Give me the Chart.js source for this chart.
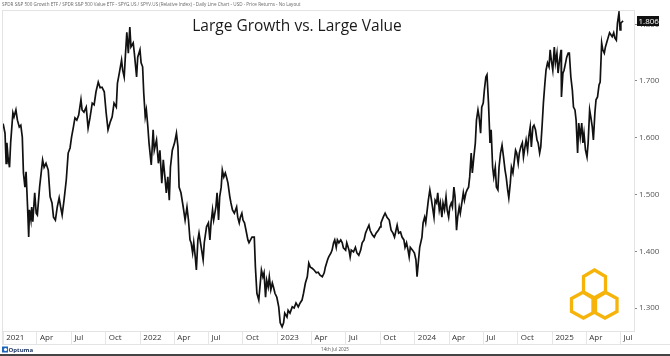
<!DOCTYPE html>
<html><head><meta charset="utf-8">
<script src="https://cdn.jsdelivr.net/npm/chart.js@4/dist/chart.umd.min.js"></script>
<style>html,body{margin:0;padding:0;background:#fff;}canvas{display:block}</style>
</head><body>
<canvas id="c" width="670" height="356"></canvas>
<script>
const headerText = 'SPDR S&P 500 Growth ETF / SPDR S&P 500 Value ETF - SPYG.US / SPYV.US (Relative Index) - Daily Line Chart - USD - Price Returns - No Layout';
const titleText = 'Large Growth vs. Large Value';
const footerDate = '14th Jul 2025';
const brandText = 'Optuma';

// days since 1 Jan 2021
const days = [
0,5,8,10,13,17,20,26,29,34,38,43,47,51,54,58,61,65,68,70,74,76,79,84,88,91,97,102,105,109,114,120,125,130,134,139,144,149,153,157,162,168,173,178,182,187,191,196,201,207,210,215,221,226,231,237,242,247,253,258,263,269,274,279,285,290,295,301,304,309,315,318,322,325,329,333,337,
340,346,349,355,358,364,367,371,374,378,381,385,388,394,399,402,408,413,417,422,426,431,434,438,442,445,450,456,461,465,468,473,479,484,489,493,497,500,504,507,511,514,518,521,525,528,532,535,541,546,550,553,557,560,566,569,573,576,580,583,587,591,594,598,603,606,610,615,621,624,628,631,635,638,642,646,651,654,658,662,668,
671,675,680,684,687,691,694,698,701,705,708,712,716,719,723,728,733,737,742,746,749,755,758,763,769,774,779,785,790,795,799,804,809,813,817,822,827,833,838,843,849,854,857,863,866,872,875,879,882,886,889,893,898,902,905,911,914,920,923,926,932,937,941,946,951,955,960,964,967,973,976,982,987,992,998,1003,
1005,1011,1016,1021,1027,1032,1037,1041,1045,1048,1052,1057,1061,1066,1069,1073,1077,1080,1083,1089,1094,1098,1101,1105,1108,1114,1117,1121,1124,1128,1131,1135,1138,1142,1146,1149,1153,1156,1160,1163,1167,1170,1174,1178,1181,1185,1188,1192,1195,1199,1202,1206,1209,1213,1216,1220,1224,1227,1231,1234,1238,1241,1245,1248,1252,1256,1259,1263,1266,1270,1273,1277,1280,1284,1287,1291,1295,1298,1302,1305,1309,1312,1316,1319,1323,
1327,1331,1335,1338,1342,1345,1349,1352,1356,1359,1363,1366,1370,1373,1377,1381,1384,1388,1391,1395,1398,1402,1405,1409,1412,1416,1420,1423,1427,1430,1434,1437,1441,1444,1448,1452,1455,1458,1462,1466,1469,1473,1476,1480,1484,1485,1489,1492,1496,1499,1503,1506,1510,1514,1517,1521,1524,1528,1531,1535,1539,1542,1545,1549,1553,1556,1560,1563,1567,1570,1574,1577,1581,1585,1588,1592,1595,1599,1602,1606,1609,1613,1617,1620,1624,1627,1631,1634,1638,1641,1643,1646,1649
];
// SPYG / SPYV relative index
const values = [
1.625,1.608,1.555,1.591,1.566,1.548,1.591,1.644,1.637,1.649,1.631,1.619,1.622,1.601,1.538,1.513,1.540,1.478,1.425,1.473,1.455,1.478,1.452,1.503,1.467,1.464,1.513,1.543,1.561,1.548,1.555,1.543,1.496,1.485,1.460,1.455,1.478,1.494,1.478,1.464,1.490,1.526,1.573,1.582,1.601,1.619,1.635,1.631,1.640,1.667,1.649,1.645,1.654,1.617,1.635,1.661,1.658,1.681,1.698,1.688,1.689,1.681,1.644,1.614,1.628,1.637,1.661,1.654,1.696,1.714,1.737,1.719,1.707,1.742,1.786,1.749,1.795,
1.760,1.767,1.749,1.707,1.742,1.755,1.732,1.725,1.679,1.637,1.649,1.619,1.591,1.552,1.614,1.578,1.596,1.555,1.578,1.520,1.561,1.526,1.503,1.531,1.490,1.548,1.578,1.591,1.608,1.584,1.513,1.503,1.478,1.455,1.478,1.455,1.420,1.415,1.397,1.415,1.390,1.367,1.420,1.432,1.415,1.402,1.385,1.415,1.443,1.450,1.420,1.450,1.473,1.455,1.478,1.503,1.455,1.496,1.513,1.543,1.531,1.538,1.531,1.520,1.496,1.485,1.473,1.467,1.478,1.460,1.450,1.460,1.467,1.455,1.450,1.437,1.420,1.415,1.420,1.425,1.425,
1.372,1.326,1.314,1.344,1.367,1.355,1.362,1.319,1.349,1.337,1.355,1.332,1.344,1.337,1.326,1.319,1.302,1.274,1.267,1.274,1.291,1.284,1.296,1.291,1.302,1.300,1.309,1.302,1.309,1.314,1.326,1.344,1.355,1.379,1.372,1.370,1.367,1.362,1.363,1.358,1.355,1.362,1.372,1.385,1.390,1.397,1.402,1.415,1.420,1.407,1.420,1.415,1.420,1.415,1.406,1.402,1.415,1.402,1.390,1.402,1.399,1.407,1.397,1.393,1.402,1.415,1.420,1.432,1.437,1.446,1.437,1.429,1.425,1.432,1.437,1.443,
1.450,1.460,1.467,1.460,1.455,1.437,1.432,1.425,1.437,1.446,1.432,1.434,1.425,1.420,1.407,1.415,1.402,1.390,1.407,1.402,1.397,1.385,1.355,1.385,1.407,1.425,1.450,1.460,1.450,1.473,1.490,1.508,1.496,1.478,1.460,1.490,1.485,1.503,1.473,1.485,1.460,1.485,1.473,1.496,1.473,1.460,1.478,1.485,1.478,1.513,1.496,1.437,1.460,1.478,1.467,1.485,1.503,1.490,1.503,1.508,1.513,1.531,1.573,1.538,1.566,1.591,1.631,1.649,1.637,1.608,1.654,1.661,1.684,1.707,1.711,1.661,1.591,1.614,1.548,1.531,1.548,1.513,1.508,1.548,1.573,
1.587,1.566,1.543,1.531,1.508,1.494,1.520,1.548,1.538,1.555,1.578,1.573,1.555,1.573,1.584,1.591,1.566,1.584,1.596,1.578,1.601,1.619,1.584,1.619,1.622,1.614,1.596,1.591,1.573,1.584,1.626,1.661,1.696,1.719,1.732,1.725,1.755,1.737,1.719,1.760,1.732,1.749,1.714,1.737,1.755,1.672,1.714,1.719,1.732,1.742,1.749,1.749,1.707,1.684,1.654,1.649,1.631,1.573,1.626,1.601,1.626,1.591,1.608,1.578,1.566,1.591,1.649,1.637,1.619,1.596,1.644,1.667,1.672,1.693,1.698,1.767,1.755,1.749,1.760,1.769,1.776,1.785,1.781,1.778,1.785,1.776,1.772,1.802,1.820,1.790,1.802,1.804,1.806
];
const xTickDays = [0,90,181,273,365,455,546,638,730,820,911,1003,1095,1186,1277,1369,1461,1551,1642];
const xTickLabels = ['2021','Apr','Jul','Oct','2022','Apr','Jul','Oct','2023','Apr','Jul','Oct','2024','Apr','Jul','Oct','2025','Apr','Jul'];
const yTickValues = [1.3,1.4,1.5,1.6,1.7,1.8];
const lastValueLabel = '1.806';

const FRAME = '#e3e3e3';
const FONT = '"Open Sans", "Liberation Sans", sans-serif';

function hexPath(c, cx, cy, hw, hv, tip) {
  c.beginPath();
  c.moveTo(cx, cy - hv - tip);
  c.lineTo(cx + hw, cy - hv);
  c.lineTo(cx + hw, cy + hv);
  c.lineTo(cx, cy + hv + tip);
  c.lineTo(cx - hw, cy + hv);
  c.lineTo(cx - hw, cy - hv);
  c.closePath();
}

const deco = {
  id: 'deco',
  beforeDraw(chart) {
    const c = chart.ctx;
    c.save(); c.fillStyle = '#fff'; c.fillRect(0, 0, chart.width, chart.height); c.restore();
  },
  afterDraw(chart) {
    const c = chart.ctx, a = chart.chartArea, W = chart.width;
    const xs = chart.scales.x;
    c.save();
    // frame lines
    c.strokeStyle = FRAME; c.lineWidth = 1;
    c.beginPath();
    c.moveTo(a.left, a.top + 0.5); c.lineTo(a.right, a.top + 0.5);
    c.moveTo(a.left + 0.5, a.top); c.lineTo(a.left + 0.5, xs.bottom);
    c.moveTo(a.left, xs.bottom + 0.5); c.lineTo(W, xs.bottom + 0.5);
    c.stroke();
    // header
    c.fillStyle = '#666'; c.font = '4.6px ' + FONT; c.textBaseline = 'middle'; c.textAlign = 'left';
    c.fillText(headerText, 2, 4.5);
    // title
    c.fillStyle = '#1a1a1a'; c.font = '15.5px ' + FONT; c.textAlign = 'center';
    c.fillText(titleText, 297, 26.5);
    // last value box
    const ys = chart.scales.y;
    const yv = ys.getPixelForValue(values[values.length - 1]);
    c.fillStyle = '#111'; c.fillRect(a.right + 3, Math.round(yv) - 5, 22, 10);
    c.fillStyle = '#fff'; c.font = '8px ' + FONT; c.textAlign = 'left';
    c.fillText(lastValueLabel, a.right + 4.5, Math.round(yv) + 0.5);
    // logo
    c.strokeStyle = '#F6B40B'; c.lineWidth = 3.3; c.lineJoin = 'miter';
    hexPath(c, 583.5, 305, 12, 6.5, 6.5); c.stroke();
    hexPath(c, 605, 305, 12, 6.5, 6.5); c.stroke();
    hexPath(c, 594.5, 284.5, 11, 8, 6.5); c.stroke();
    // footer
    c.fillStyle = '#444'; c.fillRect(0, 354, W, 2);
    c.fillStyle = '#555'; c.font = '4.6px ' + FONT; c.textAlign = 'center';
    c.fillText(footerDate, 335, 350);
    c.fillStyle = '#1d63b8'; c.fillRect(2, 346.5, 6, 6);
    c.fillStyle = '#fff'; c.beginPath(); c.arc(5.5, 349.5, 1.6, 0, Math.PI * 2); c.fill();
    c.fillStyle = '#1e3563'; c.font = 'bold 6px ' + FONT; c.textAlign = 'left';
    c.fillText(brandText, 8.5, 349.8);
    c.restore();
  }
};

new Chart(document.getElementById('c'), {
  type: 'line',
  data: {
    datasets: [{
      data: days.map((d, i) => ({ x: d, y: values[i] })),
      borderColor: '#111', borderWidth: 1.7, pointRadius: 0, tension: 0, fill: false
    }]
  },
  options: {
    responsive: false, animation: false, devicePixelRatio: 1,
    layout: { padding: { left: 2, top: 10, right: 0, bottom: 12 } },
    plugins: { legend: { display: false }, tooltip: { enabled: false }, title: { display: false } },
    scales: {
      x: {
        type: 'linear', min: -3, max: 1678,
        afterBuildTicks: s => { s.ticks = xTickDays.map(v => ({ value: v })); },
        afterFit: s => { s.height = 13; },
        grid: { drawOnChartArea: false, drawTicks: true, tickLength: 13, color: '#e6e6e6' },
        border: { display: true, color: FRAME },
        ticks: {
          autoSkip: false, maxRotation: 0, align: 'start', labelOffset: 3, padding: -11,
          color: '#333', font: { family: FONT, size: 8 },
          callback: (v, i) => xTickLabels[i]
        }
      },
      y: {
        position: 'right', min: 1.2595, max: 1.8251,
        afterBuildTicks: s => { s.ticks = yTickValues.map(v => ({ value: v })); },
        afterFit: s => { s.width = 36; },
        grid: { drawOnChartArea: false, drawTicks: true, tickLength: 3, color: '#888' },
        border: { display: true, color: FRAME },
        ticks: {
          padding: 2, color: '#555', font: { family: FONT, size: 8 },
          callback: v => Number(v).toFixed(3)
        }
      }
    }
  },
  plugins: [deco]
});
</script>
</body></html>
